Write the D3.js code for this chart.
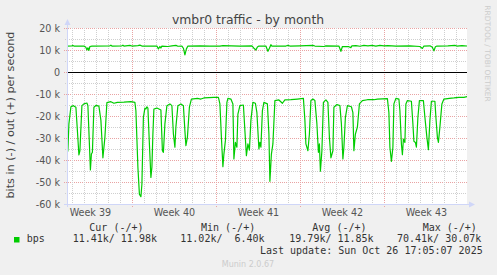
<!DOCTYPE html>
<html>
<head>
<meta charset="utf-8">
<script src="https://cdnjs.cloudflare.com/ajax/libs/d3/7.8.5/d3.min.js"></script>
<style>
  html, body { margin: 0; padding: 0; background: #f0f0f0; }
  svg { display: block; }
  text { font-family: "DejaVu Sans", sans-serif; }
  .mono { font-family: "DejaVu Sans Mono", monospace; white-space: pre; }
</style>
</head>
<body>
<div class="chart"></div>
<script>
// Sample times are hours since Monday 22 Sep 2025 00:00 UTC, values in kbit/s
var inHours = [37, 39, 41, 45, 50, 55, 58, 61, 63, 67, 71, 77, 79, 82, 84, 86, 88, 91, 95, 101,
  105, 109, 113, 117, 125, 131, 138, 151, 165, 173, 175, 179, 182, 185, 187, 190, 193, 195, 197, 199,
  202, 205, 207, 209, 211, 217, 225, 228, 230, 233, 237, 243, 247, 250, 253, 255, 259, 265, 270, 273,
  275, 278, 282, 286, 298, 305, 311, 331, 340, 343, 346, 349, 351, 354, 357, 359, 365, 369, 371, 374,
  377, 379, 383, 390, 393, 396, 399, 402, 405, 409, 414, 417, 421, 423, 425, 428, 431, 438, 441, 443,
  446, 449, 453, 461, 468, 473, 485, 498, 510, 513, 515, 519, 522, 525, 529, 533, 537, 540, 542, 544,
  547, 550, 555, 559, 562, 565, 569, 571, 577, 583, 586, 589, 591, 594, 598, 606, 609, 611, 614, 618,
  622, 628, 638, 651, 658, 678, 681, 683, 686, 689, 691, 695, 701, 703, 706, 708, 710, 713, 715, 718,
  726, 729, 731, 734, 736, 739, 742, 750, 753, 757, 760, 763, 766, 773, 775, 778, 780, 783, 787, 791,
  802, 811, 821, 831, 838];
var inKbps = [-37.7, -35.5, -23.6, -15.8, -15.3, -16.0, -26.7, -37.7, -35.8, -15.3, -14.5, -14.1, -15.3, -32.7, -44.5, -37.3, -36.5, -16.0, -15.2, -15.5,
  -22.0, -39.0, -29.7, -13.9, -13.5, -14.2, -13.8, -13.7, -13.5, -13.8, -17.6, -43.3, -55.5, -56.7, -51.0, -20.6, -16.4, -16.8, -15.8, -16.4,
  -32.7, -47.9, -43.3, -28.2, -16.8, -16.4, -17.3, -35.8, -36.5, -23.6, -15.3, -14.5, -15.3, -28.2, -34.2, -25.0, -15.3, -14.5, -15.3, -26.7,
  -33.5, -29.7, -16.0, -12.3, -12.0, -12.3, -11.8, -11.5, -11.5, -14.5, -29.7, -43.0, -37.3, -31.2, -13.8, -12.0, -12.3, -14.5, -39.5, -32.0,
  -34.2, -19.1, -15.3, -15.0, -26.7, -38.0, -32.7, -35.5, -22.0, -13.8, -14.2, -18.5, -35.0, -32.0, -34.2, -17.6, -13.8, -14.5, -28.2, -49.7,
  -37.3, -32.7, -13.0, -12.7, -14.2, -12.7, -12.6, -12.3, -12.0, -22.0, -32.7, -35.8, -28.2, -13.0, -12.3, -13.0, -23.6, -36.5, -32.7, -45.1,
  -35.8, -13.8, -12.7, -13.8, -29.7, -39.0, -35.8, -16.0, -14.8, -15.3, -23.6, -39.5, -34.2, -20.6, -15.3, -15.8, -18.5, -35.8, -28.2, -25.0,
  -14.5, -13.0, -12.6, -12.6, -12.3, -12.1, -18.5, -34.2, -40.6, -34.2, -14.5, -12.0, -12.3, -17.6, -32.7, -37.6, -30.5, -32.0, -14.5, -13.0,
  -13.3, -23.6, -31.5, -32.0, -34.2, -20.6, -13.0, -13.0, -20.6, -29.7, -35.3, -22.0, -13.3, -13.3, -20.6, -29.7, -32.0, -25.0, -14.5, -12.3,
  -12.0, -11.8, -11.5, -11.5, -11.2];
var outHours = [37, 47, 49, 51, 71, 75, 77, 79, 81, 83, 87, 123, 125, 127, 147, 149, 151, 163, 167, 179,
  183, 187, 217, 220, 223, 225, 227, 239, 247, 255, 259, 267, 270, 273, 276, 279, 303, 323, 343, 349,
  383, 407, 411, 415, 418, 421, 435, 439, 442, 445, 447, 475, 479, 483, 503, 529, 533, 551, 555, 581,
  585, 588, 601, 605, 607, 615, 623, 631, 639, 647, 655, 663, 671, 679, 695, 723, 743, 748, 751, 763,
  768, 771, 774, 777, 799, 813, 817, 827, 838];
var outKbps = [11.8, 11.9, 12.1, 11.8, 11.8, 11.2, 10.0, 11.0, 9.8, 11.6, 11.8, 11.9, 12.2, 11.8, 11.9, 12.2, 11.8, 12.1, 11.8, 12.0,
  12.2, 11.8, 11.8, 10.5, 11.6, 10.9, 11.8, 11.6, 11.9, 12.1, 11.7, 11.8, 10.8, 7.8, 10.5, 11.8, 11.9, 11.8, 11.8, 12.0,
  11.8, 11.9, 10.8, 10.0, 11.4, 11.8, 11.8, 9.4, 10.8, 12.4, 11.8, 11.8, 12.1, 11.8, 11.9, 12.1, 11.8, 11.6, 11.9, 11.8,
  9.4, 11.6, 11.5, 11.1, 11.9, 12.0, 11.7, 12.1, 11.9, 12.1, 11.8, 12.1, 11.9, 12.0, 11.8, 11.9, 11.6, 10.7, 11.8, 11.9,
  11.2, 9.6, 11.5, 11.8, 11.9, 12.1, 11.8, 12.0, 11.8];

var yTicks = [20, 10, 0, -10, -20, -30, -40, -50, -60];
var legendHeaders = ["Cur (-/+)", "Min (-/+)", "Avg (-/+)", "Max (-/+)"];
var legendValues = ["11.41k/ 11.98k", "11.02k/  6.40k", "19.79k/ 11.85k", "70.41k/ 30.07k"];
var lastUpdate = "Last update: Sun Oct 26 17:05:07 2025";

// SVG size and plot box
var svgWidth = 497;
var svgHeight = 275;
var plot = { left: 67, right: 467, top: 28, bottom: 204 };

var t0 = Date.UTC(2025, 8, 22);
function toDate(h) {
  return new Date(t0 + h * 3600 * 1000);
}

var svg = d3
  .select(".chart")
  .append("svg")
  .attr("width", svgWidth)
  .attr("height", svgHeight);

svg.append("rect")
  .attr("width", svgWidth)
  .attr("height", svgHeight)
  .attr("fill", "#f0f0f0");

// Scales
var xScale = d3.scaleUtc()
  .domain([toDate(37.2), toDate(837.2)])
  .range([plot.left, plot.right]);
var yScale = d3.scaleLinear()
  .domain([-60, 20])
  .range([plot.bottom, plot.top]);

// White canvas
svg.append("rect")
  .attr("x", plot.left)
  .attr("y", plot.top)
  .attr("width", plot.right - plot.left)
  .attr("height", plot.bottom - plot.top)
  .attr("fill", "#ffffff");

var minorColor = "#cfcfcf";
var majorColor = "#e9a3a3";

var grid = svg.append("g").attr("shape-rendering", "crispEdges");

// Horizontal grid: 5k minor, 10k major
var minorY = d3.range(-55, 20, 10);
grid.selectAll(".hminor")
  .data(minorY)
  .enter()
  .append("line")
  .attr("x1", plot.left - 2)
  .attr("x2", plot.right)
  .attr("y1", function (d) { return Math.round(yScale(d)) + 0.5; })
  .attr("y2", function (d) { return Math.round(yScale(d)) + 0.5; })
  .attr("stroke", minorColor)
  .attr("stroke-dasharray", "1,1");

grid.selectAll(".hmajor")
  .data(yTicks.filter(function (d) { return d !== -60; }))
  .enter()
  .append("line")
  .attr("x1", plot.left - 3)
  .attr("x2", plot.right)
  .attr("y1", function (d) { return Math.round(yScale(d)) + 0.5; })
  .attr("y2", function (d) { return Math.round(yScale(d)) + 0.5; })
  .attr("stroke", majorColor)
  .attr("stroke-dasharray", "1,1");

// Vertical grid: days minor, weeks major
var xStart = xScale.domain()[0];
var xEnd = xScale.domain()[1];
var days = d3.utcDay.range(d3.utcDay.ceil(xStart), xEnd)
  .filter(function (d) { return d.getUTCDay() !== 1; });
var weeks = d3.utcMonday.range(d3.utcMonday.ceil(xStart), xEnd);

grid.selectAll(".vminor")
  .data(days)
  .enter()
  .append("line")
  .attr("x1", function (d) { return Math.round(xScale(d)) + 0.5; })
  .attr("x2", function (d) { return Math.round(xScale(d)) + 0.5; })
  .attr("y1", plot.top)
  .attr("y2", plot.bottom + 2)
  .attr("stroke", minorColor)
  .attr("stroke-dasharray", "1,1");

grid.selectAll(".vmajor")
  .data(weeks)
  .enter()
  .append("line")
  .attr("x1", function (d) { return Math.round(xScale(d)) + 0.5; })
  .attr("x2", function (d) { return Math.round(xScale(d)) + 0.5; })
  .attr("y1", plot.top)
  .attr("y2", plot.bottom + 3)
  .attr("stroke", majorColor)
  .attr("stroke-dasharray", "1,1");

// Zero line
svg.append("line")
  .attr("x1", plot.left)
  .attr("x2", plot.right)
  .attr("y1", Math.round(yScale(0)) + 0.5)
  .attr("y2", Math.round(yScale(0)) + 0.5)
  .attr("stroke", "#000000")
  .attr("shape-rendering", "crispEdges");

// Data lines, clipped to the canvas
svg.append("clipPath")
  .attr("id", "plotClip")
  .append("rect")
  .attr("x", plot.left)
  .attr("y", plot.top)
  .attr("width", plot.right - plot.left)
  .attr("height", plot.bottom - plot.top);

var line = d3.line()
  .x(function (d) { return xScale(toDate(d[0])); })
  .y(function (d) { return yScale(d[1]); });

var inData = inHours.map(function (h, i) { return [h, inKbps[i]]; });
var outData = outHours.map(function (h, i) { return [h, outKbps[i]]; });

var lines = svg.append("g").attr("clip-path", "url(#plotClip)");
lines.append("path")
  .datum(inData)
  .attr("d", line)
  .attr("fill", "none")
  .attr("stroke", "#00cc00")
  .attr("stroke-width", 1.2)
  .attr("stroke-linejoin", "round");
lines.append("path")
  .datum(outData)
  .attr("d", line)
  .attr("fill", "none")
  .attr("stroke", "#00cc00")
  .attr("stroke-width", 1.2)
  .attr("stroke-linejoin", "round");

// Axis lines with arrows
var axisColor = "#cfd6f8";
svg.append("line")
  .attr("x1", plot.left + 0.5)
  .attr("x2", plot.left + 0.5)
  .attr("y1", plot.bottom + 3)
  .attr("y2", plot.top - 5)
  .attr("stroke", axisColor)
  .attr("shape-rendering", "crispEdges");
svg.append("line")
  .attr("x1", plot.left - 3)
  .attr("x2", plot.right + 4)
  .attr("y1", plot.bottom + 0.5)
  .attr("y2", plot.bottom + 0.5)
  .attr("stroke", axisColor)
  .attr("shape-rendering", "crispEdges");
svg.append("path")
  .attr("d", "M" + (plot.left - 2.5) + "," + (plot.top - 3) + "L" + (plot.left + 0.5) + "," + (plot.top - 9) + "L" + (plot.left + 3.5) + "," + (plot.top - 3) + "Z")
  .attr("fill", axisColor);
svg.append("path")
  .attr("d", "M" + (plot.right + 2) + "," + (plot.bottom - 2.5) + "L" + (plot.right + 8) + "," + (plot.bottom + 0.5) + "L" + (plot.right + 2) + "," + (plot.bottom + 3.5) + "Z")
  .attr("fill", axisColor);

// Y tick labels
svg.append("g")
  .selectAll("text")
  .data(yTicks)
  .enter()
  .append("text")
  .attr("x", 60)
  .attr("y", function (d) { return yScale(d) + 3.5; })
  .attr("text-anchor", "end")
  .attr("fill", "#555555")
  .style("font-size", "9.6px")
  .text(function (d) { return d === 0 ? "0" : d + " k"; });

// Week labels, centred on each week
var labelWeeks = d3.utcMonday.range(d3.utcMonday.floor(xStart), xEnd);
var weekFormat = d3.utcFormat("%V");
svg.append("g")
  .selectAll("text")
  .data(labelWeeks)
  .enter()
  .append("text")
  .attr("x", function (d) { return xScale(d3.utcHour.offset(d, 84)); })
  .attr("y", 216)
  .attr("text-anchor", "middle")
  .attr("fill", "#555555")
  .style("font-size", "9.6px")
  .text(function (d) { return "Week " + +weekFormat(d); });

// Title
svg.append("text")
  .attr("x", 248)
  .attr("y", 23.5)
  .attr("text-anchor", "middle")
  .attr("fill", "#444444")
  .style("font-size", "12.4px")
  .text("vmbr0 traffic - by month");

// Y axis label
svg.append("text")
  .attr("transform", "translate(13.5,115) rotate(-90)")
  .attr("text-anchor", "middle")
  .attr("fill", "#444444")
  .style("font-size", "11.2px")
  .text("bits in (-) / out (+) per second");

// Watermark
svg.append("text")
  .attr("transform", "translate(485,53.5) rotate(90)")
  .attr("text-anchor", "middle")
  .attr("fill", "#cccccc")
  .style("font-size", "7.5px")
  .text("RRDTOOL / TOBI OETIKER");

// Legend
var colX = [89.3, 201, 312.3, 422.7];
var valX = [72.7, 180.3, 289.3, 397];
var legend = svg.append("g").attr("fill", "#333333").style("font-size", "10px");

legend.selectAll(".hdr")
  .data(legendHeaders)
  .enter()
  .append("text")
  .attr("class", "mono")
  .attr("x", function (d, i) { return colX[i]; })
  .attr("y", 230.5)
  .text(function (d) { return d; });

legend.append("rect")
  .attr("x", 14)
  .attr("y", 237)
  .attr("width", 5.5)
  .attr("height", 5.5)
  .attr("fill", "#00cc00");

legend.append("text")
  .attr("class", "mono")
  .attr("x", 26.7)
  .attr("y", 242.3)
  .text("bps");

legend.selectAll(".val")
  .data(legendValues)
  .enter()
  .append("text")
  .attr("class", "mono")
  .attr("x", function (d, i) { return valX[i]; })
  .attr("y", 242.3)
  .text(function (d) { return d; });

legend.append("text")
  .attr("class", "mono")
  .attr("x", 482.7)
  .attr("y", 253.5)
  .attr("text-anchor", "end")
  .text(lastUpdate);

svg.append("text")
  .attr("x", 248)
  .attr("y", 267.3)
  .attr("text-anchor", "middle")
  .attr("fill", "#cccccc")
  .style("font-size", "8px")
  .text("Munin 2.0.67");
</script>
</body>
</html>
